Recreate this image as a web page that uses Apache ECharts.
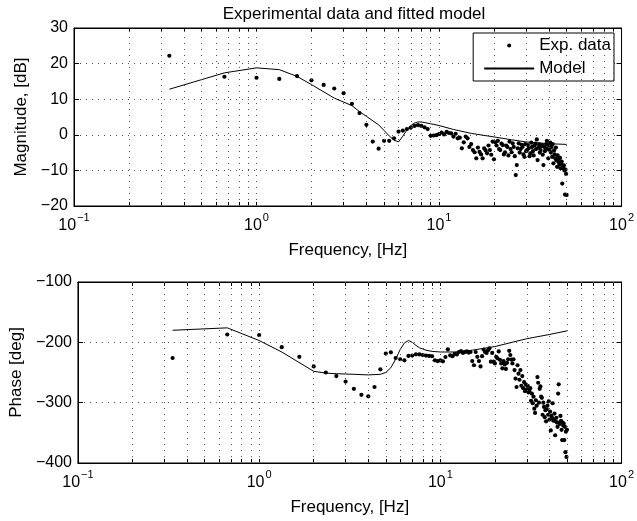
<!DOCTYPE html>
<html><head><meta charset="utf-8">
<script src="https://cdn.jsdelivr.net/npm/echarts@6/dist/echarts.min.js"></script>
<style>html,body{margin:0;padding:0;background:#fff}#c{width:637px;height:521px}</style>
</head><body><div id="c"></div>
<script>
const titleText = 'Experimental data and fitted model';
const xAxisTitle = 'Frequency, [Hz]';
const magTitle = 'Magnitude, [dB]';
const phaseTitle = 'Phase [deg]';
const legendNames = ['Exp. data', 'Model'];
const magTicks = [-20, -10, 0, 10, 20, 30];
const phaseTicks = [-400, -300, -200, -100];

// Experimental magnitude [Hz, dB]
const magExp = [
 [0.333,22.2],[0.667,16.3],[1.0,16.0],[1.333,15.7],[1.667,16.5],[2.0,15.3],[2.333,14.0],[2.667,13.0],[3.0,11.7],
 [3.333,8.7],[3.667,6.1],[4.0,2.8],[4.333,-1.9],[4.667,-3.9],[5.0,-1.7],[5.333,-1.7],[5.667,-1.0],[6.0,0.9],
 [6.333,1.2],[6.667,1.6],[7.0,2.0],[7.333,2.5],[7.667,2.7],[8.0,2.5],[8.333,2.1],[8.667,1.6],[9.0,-0.3],
 [9.333,-0.2],[9.667,-0.1],[10.0,0.2],[10.333,0.6],[10.667,0.1],[11.0,0.8],[11.333,0.5],[11.667,0.4],[12.0,-0.5],
 [12.333,0.3],[12.667,-1.0],[13.0,-0.8],[13.333,-3.8],[13.667,-2.1],[14.0,-0.5],[14.333,-1.0],[14.667,-3.4],
 [15.0,-2.6],[15.333,-4.3],[15.667,-4.9],[16.0,-6.6],[16.333,-3.6],[16.667,-4.8],[17.0,-5.5],[17.333,-6.6],
 [17.667,-3.8],[18.0,-4.4],[18.333,-5.2],[18.667,-3.0],[19.0,-4.3],[19.333,-5.6],[19.667,-1.9],[20.0,-6.9],
 [20.333,-2.1],[20.667,-3.0],[21.0,-1.7],[21.333,-4.0],[21.667,-4.3],[22.0,-2.5],[22.333,-2.9],[22.667,-5.5],
 [23.0,-4.9],[23.333,-3.0],[23.667,-3.4],[24.0,-5.8],[24.333,-1.9],[24.667,-4.0],[25.0,-4.9],[25.333,-2.4],
 [25.667,-3.4],[26.0,-6.0],[26.333,-11.3],[26.667,-8.5],[27.0,-3.8],[27.333,-2.4],[27.667,-5.0],[28.0,-4.0],
 [28.333,-2.8],[28.667,-3.4],[29.0,-5.5],[29.333,-6.2],[29.667,-2.6],[30.0,-4.6],[30.333,-4.3],[30.667,-2.9],
 [31.0,-3.8],[31.333,-6.0],[31.667,-5.2],[32.0,-2.2],[32.333,-3.4],[32.667,-4.6],[33.0,-5.8],[33.333,-3.0],
 [33.667,-2.5],[34.0,-4.0],[34.333,-1.3],[34.667,-7.1],[35.0,-3.6],[35.333,-2.7],[35.667,-5.0],[36.0,-4.3],
 [36.333,-3.2],[36.667,-2.9],[37.0,-5.6],[37.333,-8.5],[37.667,-3.3],[38.0,-4.6],[38.333,-3.8],[38.667,-2.6],
 [39.0,-1.7],[39.333,-4.0],[39.667,-6.6],[40.0,-3.0],[40.333,-4.3],[40.667,-2.2],[41.0,-5.0],[41.333,-3.4],
 [41.667,-6.2],[42.0,-2.6],[42.333,-8.0],[42.667,-4.4],[43.0,-5.5],[43.333,-6.6],[43.667,-3.6],[44.0,-7.2],
 [44.333,-9.0],[44.667,-5.8],[45.0,-6.8],[45.333,-7.7],[45.667,-8.4],[46.0,-6.5],[46.333,-9.4],[46.667,-8.0],
 [47.0,-7.5],[47.333,-13.7],[47.667,-9.0],[48.0,-9.4],[48.333,-8.6],[48.667,-10.0],[49.0,-16.8],[49.333,-9.8],
 [49.667,-11.0],[50.0,-16.9]
];
// Model magnitude [Hz, dB]
const magModel = [
 [0.333,12.8],[0.667,17.4],[1.0,18.8],[1.333,18.3],[1.667,16.4],[2.0,14.1],[2.667,10.3],[3.333,8.2],[3.667,6.5],
 [4.0,5.2],[4.667,2.8],[5.0,1.2],[5.333,-0.3],[5.667,-1.5],[6.0,-2.0],[6.333,-0.4],[6.667,1.4],[7.0,2.6],
 [7.333,3.3],[7.667,3.6],[8.0,3.6],[9.0,3.1],[10.0,2.6],[12.0,1.5],[15.0,0.4],[20.0,-0.6],[25.0,-1.4],
 [30.0,-2.0],[40.0,-2.5],[50.0,-2.7]
];
// Experimental phase [Hz, deg]
const phaseExp = [
 [0.333,-226],[0.667,-187],[1.0,-188],[1.333,-208],[1.667,-224],[2.0,-240],[2.333,-250],[2.667,-256],[3.0,-265],
 [3.333,-277],[3.667,-287],[4.0,-289.5],[4.333,-274],[4.667,-244.7],[5.0,-218.7],[5.333,-216.5],[5.667,-226],
 [6.0,-228],[6.333,-229.8],[6.667,-222.6],[7.0,-222],[7.333,-219.8],[7.667,-220],[8.0,-221],[8.333,-222],
 [8.667,-222.6],[9.0,-223],[9.333,-229.8],[9.667,-231],[10.0,-230],[10.333,-231.5],[10.667,-224.3],[11.0,-211.6],
 [11.333,-221.5],[11.667,-223],[12.0,-219],[12.333,-220],[12.667,-216],[13.0,-214.5],[13.333,-217.6],[13.667,-216],
 [14.0,-215],[14.333,-217],[14.667,-216],[15.0,-231],[15.333,-238],[15.667,-216],[16.0,-224],[16.333,-231],
 [16.667,-240],[17.0,-223],[17.333,-212],[17.667,-216],[18.0,-217.6],[18.333,-213],[18.667,-210],[19.0,-232],
 [19.333,-217.6],[19.667,-232],[20.0,-235],[20.333,-224],[20.667,-226.5],[21.0,-215],[21.333,-229],[21.667,-235],
 [22.0,-243],[22.333,-231],[22.667,-236.6],[23.0,-244],[23.333,-234],[23.667,-228],[24.0,-214],[24.333,-221],
 [24.667,-228.5],[25.0,-235],[25.333,-228],[25.667,-246],[26.0,-260],[26.333,-274],[26.667,-238],[27.0,-252],
 [27.333,-262],[27.667,-246],[28.0,-272],[28.333,-256],[28.667,-276],[29.0,-266],[29.333,-281],[29.667,-270],
 [30.0,-278],[30.333,-272],[30.667,-283],[31.0,-281],[31.333,-276],[31.667,-297],[32.0,-285],[32.333,-301],
 [32.667,-290],[33.0,-310],[33.333,-317],[33.667,-296],[34.0,-305],[34.333,-257.6],[34.667,-267],[35.0,-300],
 [35.333,-277],[35.667,-273],[36.0,-290],[36.333,-292],[36.667,-320],[37.0,-300],[37.333,-307],[37.667,-324],
 [38.0,-312.6],[38.333,-331],[38.667,-311],[39.0,-305],[39.333,-320],[39.667,-298],[40.0,-328],[40.333,-315],
 [40.667,-346],[41.0,-322],[41.333,-325],[41.667,-301],[42.0,-330],[42.333,-328],[42.667,-318],[43.0,-354],
 [43.333,-331],[43.667,-325],[44.0,-333],[44.333,-340],[44.667,-285],[45.0,-269.6],[45.333,-333],[45.667,-335],
 [46.0,-322],[46.333,-330],[46.667,-345],[47.0,-362],[47.333,-333],[47.667,-338],[48.0,-335],[48.333,-362],
 [48.667,-340],[49.0,-382],[49.333,-348],[49.667,-390],[50.0,-345]
];
// Model phase [Hz, deg]
const phaseModel = [
 [0.333,-180],[0.667,-176],[1.0,-197],[1.333,-216],[2.0,-248],[2.333,-251],[2.667,-252],[3.333,-253],[4.0,-254],
 [4.667,-253],[5.0,-250],[5.333,-242],[5.667,-228],[6.0,-212],[6.333,-201],[6.667,-197],[7.0,-200],[7.333,-205],
 [7.667,-209],[8.333,-213],[9.0,-215],[10.0,-216],[12.0,-216],[15.0,-213],[20.0,-207],[30.0,-194],[40.0,-187],
 [50.0,-181]
];

const FONT = 'Liberation Sans, Arial, Helvetica, sans-serif';
const minus = s => String(s).replace('-', '\u2212');
const gridDot = {color: '#555', width: 1, type: [1, 5]};

// sub-decade positions (axis decoration: dotted grid + minor ticks)
const subDecades = [];
[0.1, 1, 10].forEach(d => { for (let m = 2; m <= 9; m++) subDecades.push(+(d * m).toPrecision(3)); });
const vLines = subDecades.concat([1, 10]);
const markLine = {
  silent: true, symbol: ['none', 'none'], label: {show: false}, animation: false,
  lineStyle: gridDot, emphasis: {disabled: true},
  data: vLines.map(v => ({xAxis: v}))
};

const supRich = {
  b: {fontSize: 16, fontFamily: FONT, color: '#000', lineHeight: 22, verticalAlign: 'bottom'},
  s: {fontSize: 11, fontFamily: FONT, color: '#000', lineHeight: 22, verticalAlign: 'top', padding: [0, 0, 0, 1]}
};
const tickAll = [0.1, 1, 10, 100].concat(subDecades);
function xAxisCfg(gi) {
  return {
    type: 'log', logBase: 10, min: 0.1, max: 100, gridIndex: gi,
    axisLine: {show: true, onZero: false, lineStyle: {color: '#000', width: 1}},
    axisTick: {inside: true, length: 4, customValues: tickAll, lineStyle: {color: '#000'}},
    splitLine: {show: false},
    axisLabel: {
      margin: 6, color: '#000',
      formatter: v => '{b|10}{s|' + minus(Math.round(Math.log10(v))) + '}',
      rich: supRich
    },
    name: xAxisTitle, nameLocation: 'middle', nameGap: 36,
    nameTextStyle: {fontSize: 17, fontFamily: FONT, color: '#000'}
  };
}
function xTopCfg(gi) {
  return {type: 'log', logBase: 10, min: 0.1, max: 100, gridIndex: gi, position: 'top',
    axisLine: {show: true, onZero: false, lineStyle: {color: '#000'}},
    axisTick: {inside: true, length: 4, customValues: tickAll, lineStyle: {color: '#000'}},
    axisLabel: {show: false}, splitLine: {show: false}};
}
function yAxisCfg(gi, ticks, name, gap) {
  return {
    type: 'value', gridIndex: gi, min: ticks[0], max: ticks[ticks.length - 1], interval: ticks[1] - ticks[0],
    axisLine: {show: true, onZero: false, lineStyle: {color: '#000'}},
    axisTick: {show: true, inside: true, length: 5, lineStyle: {color: '#000'}},
    splitLine: {show: true, lineStyle: gridDot},
    axisLabel: {margin: 6, color: '#000', fontSize: 16, fontFamily: FONT, formatter: v => minus(v)},
    name: name, nameLocation: 'middle', nameGap: gap, nameRotate: 90,
    nameTextStyle: {fontSize: 17, fontFamily: FONT, color: '#000'}
  };
}
function yRightCfg(gi, ticks) {
  return {type: 'value', gridIndex: gi, position: 'right', min: ticks[0], max: ticks[ticks.length - 1], interval: ticks[1] - ticks[0],
    axisLine: {show: true, onZero: false, lineStyle: {color: '#000'}},
    axisTick: {show: true, inside: true, length: 5, lineStyle: {color: '#000'}},
    axisLabel: {show: false}, splitLine: {show: false}};
}

const chart = echarts.init(document.getElementById('c'), null, {renderer: 'canvas'});
chart.setOption({
  animation: false,
  backgroundColor: '#fff',
  textStyle: {fontFamily: FONT},
  title: {text: titleText, left: 349, top: 1, textAlign: 'center',
    textStyle: {fontSize: 17, fontWeight: 'normal', color: '#000', fontFamily: FONT}},
  legend: {
    data: [{name: legendNames[0], icon: 'circle'}, {name: legendNames[1], itemStyle: {opacity: 0}}],
    orient: 'vertical', right: 23, top: 33, itemWidth: 50, itemHeight: 4, itemGap: 6,
    padding: [4, 3, 4, 10], backgroundColor: '#fff', borderColor: '#000', borderWidth: 1,
    textStyle: {fontSize: 17, fontFamily: FONT, color: '#000', lineHeight: 17},
    selectedMode: false
  },
  grid: [
    {left: 74, right: 12, top: 28, height: 178, show: true, borderColor: '#000', borderWidth: 1, backgroundColor: '#fff'},
    {left: 74, right: 12, top: 282, height: 181, show: true, borderColor: '#000', borderWidth: 1, backgroundColor: '#fff'}
  ],
  xAxis: [xAxisCfg(0), xAxisCfg(1), xTopCfg(0), xTopCfg(1)],
  yAxis: [yAxisCfg(0, magTicks, magTitle, 40), yAxisCfg(1, phaseTicks, phaseTitle, 50), yRightCfg(0, magTicks), yRightCfg(1, phaseTicks)],
  series: [
    {name: legendNames[1], type: 'line', xAxisIndex: 0, yAxisIndex: 0, data: magModel, symbol: 'none',
      lineStyle: {color: '#000', width: 1}, itemStyle: {color: '#000'}, z: 3, markLine: markLine},
    {name: legendNames[0], type: 'scatter', xAxisIndex: 0, yAxisIndex: 0, data: magExp, symbol: 'circle', symbolSize: 4.2,
      itemStyle: {color: '#000', opacity: 1}, z: 4},
    {name: legendNames[1], type: 'line', xAxisIndex: 1, yAxisIndex: 1, data: phaseModel, symbol: 'none',
      lineStyle: {color: '#000', width: 1}, itemStyle: {color: '#000'}, z: 3, markLine: markLine},
    {name: legendNames[0], type: 'scatter', xAxisIndex: 1, yAxisIndex: 1, data: phaseExp, symbol: 'circle', symbolSize: 4.2,
      itemStyle: {color: '#000', opacity: 1}, z: 4}
  ]
});
</script>
</body></html>
